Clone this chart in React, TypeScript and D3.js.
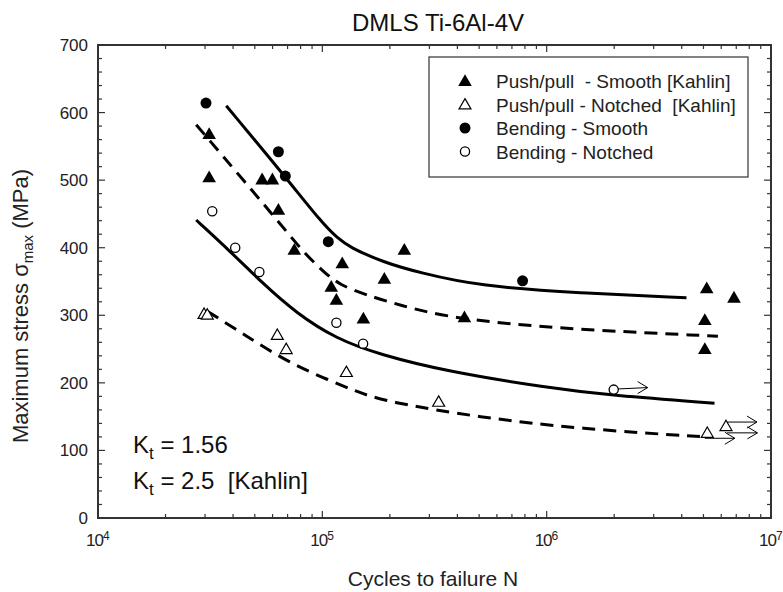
import * as d3 from 'd3';
import React from 'react';

// fatigue data, [cycles, MPa]
const ppSmooth = [
  [31300, 568], [31300, 504], [53900, 501], [59900, 501], [63700, 456],
  [75000, 397], [109600, 342], [115500, 323], [122700, 377], [152400, 295],
  [189000, 354], [232000, 397], [430000, 297], [5.17e6, 340], [5.07e6, 293],
  [5.07e6, 250], [6.84e6, 326],
];
const ppNotched = [
  [29700, 302], [30700, 301], [63000, 271], [69000, 250], [128000, 216],
  [330000, 172], [5.2e6, 126], [6.3e6, 136],
];
const bendSmooth = [[30300, 614], [63700, 542], [68400, 506], [106300, 409], [781000, 351]];
const bendNotched = [[32300, 454], [40900, 400], [52400, 364], [115500, 289], [152000, 258], [1.99e6, 190]];

// run-outs: [start N, start S, end N, end S]
const runouts = [
  [2.08e6, 191, 2.82e6, 193],
  [6.37e6, 142, 8.66e6, 142],
  [6.37e6, 126, 8.7e6, 126],
  [5.07e6, 118, 6.9e6, 118],
];

// fitted curves
const fitBendSmooth = [
  [37300, 610], [68400, 505], [100000, 436], [117000, 414], [132000, 401],
  [185000, 379], [271000, 363], [502000, 343], [1.4e6, 333], [4.2e6, 326],
];
const fitPPSmooth = [
  [27400, 582], [65600, 434], [81500, 395], [100000, 366], [119000, 345],
  [157000, 330], [221000, 315], [358000, 297], [1e6, 281], [5.8e6, 269],
];
const fitBendNotched = [
  [27400, 441], [39600, 392], [53900, 348], [76600, 303], [115500, 265],
  [180000, 242], [358000, 217], [1e6, 193], [1.97e6, 181], [5.6e6, 170],
];
const fitPPNotched = [
  [30700, 306], [41800, 278], [50700, 260], [71300, 230], [100000, 208],
  [142000, 187], [193000, 172], [502000, 149], [1.4e6, 132], [5.07e6, 120],
];

const xDecades = [4, 5, 6, 7];
const legendLabels = [
  'Push/pull  - Smooth [Kahlin]',
  'Push/pull - Notched  [Kahlin]',
  'Bending - Smooth',
  'Bending - Notched',
];

const W = 783, H = 592;
const L = 98, R = 771, T = 45, B = 518;
const FONT = 'Liberation Sans, Arial, sans-serif';

export default function App() {
  const x = d3.scaleLog().domain([1e4, 1e7]).range([L, R]);
  const y = d3.scaleLinear().domain([0, 700]).range([B, T]);

  const line = d3.line<number[]>()
    .x(d => x(d[0]))
    .y(d => y(d[1]))
    .curve(d3.curveBasis);

  const tri = d3.symbol().type(d3.symbolTriangle).size(80)() as string;
  const triOpen = d3.symbol().type(d3.symbolTriangle).size(62)() as string;

  const xTicks = x.ticks();
  const yTicks = d3.range(0, 701, 20);

  const filledTri = (px: number, py: number, k: string) => (
    <path key={k} d={tri} transform={`translate(${px},${py + 1})`} fill="#000" />
  );
  const openTri = (px: number, py: number, k: string) => (
    <path key={k} d={triOpen} transform={`translate(${px},${py + 1})`} fill="#fff" stroke="#000" strokeWidth={1.2} />
  );
  const filledCirc = (px: number, py: number, k: string) => (
    <circle key={k} cx={px} cy={py} r={5.5} fill="#000" />
  );
  const openCirc = (px: number, py: number, k: string) => (
    <circle key={k} cx={px} cy={py} r={4.6} fill="#fff" stroke="#000" strokeWidth={1.3} />
  );

  return (
    <svg width={W} height={H} style={{ position: 'absolute', left: 0, top: 0, background: '#fff' }} fontFamily={FONT}>
      <text x={438} y={31} textAnchor="middle" fontSize={24} fill="#111">DMLS Ti-6Al-4V</text>

      {/* frame */}
      <rect x={L} y={T} width={R - L} height={B - T} fill="none" stroke="#333" strokeWidth={2} />

      {/* x ticks, inward on bottom and top */}
      {xTicks.map((t, i) => {
        const major = Math.abs(Math.log10(t) - Math.round(Math.log10(t))) < 1e-9;
        const len = major ? 7 : 4;
        return (
          <g key={'xt' + i} stroke="#333" strokeWidth={1.2}>
            <line x1={x(t)} x2={x(t)} y1={B} y2={B - len} />
            <line x1={x(t)} x2={x(t)} y1={T} y2={T + len} />
          </g>
        );
      })}
      {yTicks.map(t => {
        const len = t % 100 === 0 ? 7 : 4;
        return (
          <g key={'yt' + t} stroke="#333" strokeWidth={1.2}>
            <line x1={L} x2={L + len} y1={y(t)} y2={y(t)} />
            <line x1={R} x2={R - len} y1={y(t)} y2={y(t)} />
          </g>
        );
      })}

      {/* tick labels */}
      {d3.range(0, 701, 100).map(t => (
        <text key={'yl' + t} x={L - 10} y={y(t) + 6} textAnchor="end" fontSize={17} fill="#222">{t}</text>
      ))}
      {xDecades.map(p => (
        <text key={'xl' + p} x={x(Math.pow(10, p)) - 12} y={546} fontSize={17} fill="#222" letterSpacing={-1}>
          10<tspan dy={-6} fontSize={12}>{p}</tspan>
        </text>
      ))}

      {/* axis titles */}
      <text x={433} y={586} textAnchor="middle" fontSize={21} fill="#222">Cycles to failure N</text>
      <text transform="translate(28,306) rotate(-90)" textAnchor="middle" fontSize={22} fill="#222">
        Maximum stress σ<tspan dy={5} fontSize={15}>max</tspan><tspan dy={-5}> (MPa)</tspan>
      </text>

      {/* fitted curves */}
      <g fill="none" stroke="#000" strokeWidth={3}>
        <path d={line(fitBendSmooth) as string} />
        <path d={line(fitBendNotched) as string} />
        <path d={line(fitPPSmooth) as string} strokeDasharray="13 8" />
        <path d={line(fitPPNotched) as string} strokeDasharray="13 8" />
      </g>

      {/* run-out arrows */}
      <g fill="none" stroke="#000" strokeWidth={1}>
        {runouts.map((r, i) => {
          const x1 = x(r[0]), y1 = y(r[1]), x2 = x(r[2]), y2 = y(r[3]);
          return (
            <g key={'ro' + i}>
              <line x1={x1} y1={y1} x2={x2} y2={y2} />
              <polyline points={`${x2 - 10},${y2 - 6} ${x2},${y2} ${x2 - 10},${y2 + 6}`} />
            </g>
          );
        })}
      </g>

      {/* points */}
      {bendNotched.map((d, i) => openCirc(x(d[0]), y(d[1]), 'bn' + i))}
      {ppNotched.map((d, i) => openTri(x(d[0]), y(d[1]), 'pn' + i))}
      {ppSmooth.map((d, i) => filledTri(x(d[0]), y(d[1]), 'ps' + i))}
      {bendSmooth.map((d, i) => filledCirc(x(d[0]), y(d[1]), 'bs' + i))}

      {/* legend */}
      <rect x={429} y={57} width={319} height={120} fill="#fff" stroke="#333" strokeWidth={1.2} />
      {legendLabels.map((lab, i) => {
        const cy = 81 + i * 23.5;
        const sym = [filledTri, openTri, filledCirc, openCirc][i];
        return (
          <g key={'lg' + i}>
            {sym(465, cy, 'ls' + i)}
            <text x={496} y={cy + 7} fontSize={19} fill="#222" style={{ whiteSpace: 'pre' }}>{lab}</text>
          </g>
        );
      })}

      {/* Kt notes */}
      <text x={133} y={453} fontSize={24} fill="#111">
        K<tspan dy={6} fontSize={17}>t</tspan><tspan dy={-6}> = 1.56</tspan>
      </text>
      <text x={133} y={489} fontSize={24} fill="#111" style={{ whiteSpace: 'pre' }}>
        K<tspan dy={6} fontSize={17}>t</tspan><tspan dy={-6}>{' = 2.5  [Kahlin]'}</tspan>
      </text>
    </svg>
  );
}
